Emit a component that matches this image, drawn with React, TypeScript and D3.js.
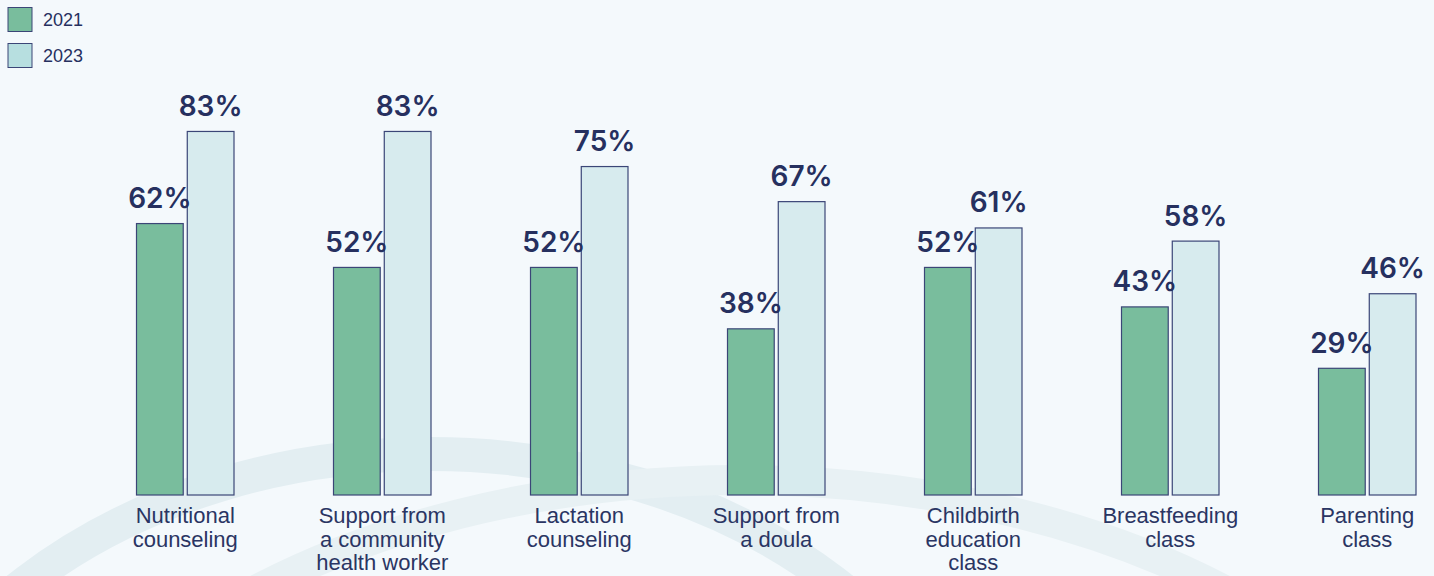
import React, { useEffect, useRef } from "react";
import * as d3 from "d3";

// data
const categories = [
  "Nutritional counseling",
  "Support from a community health worker",
  "Lactation counseling",
  "Support from a doula",
  "Childbirth education class",
  "Breastfeeding class",
  "Parenting class",
];
// how each category label wraps
const categoryLines = [
  ["Nutritional", "counseling"],
  ["Support from", "a community", "health worker"],
  ["Lactation", "counseling"],
  ["Support from", "a doula"],
  ["Childbirth", "education", "class"],
  ["Breastfeeding", "class"],
  ["Parenting", "class"],
];
const seriesNames = ["2021", "2023"];
const values2021 = [62, 52, 52, 38, 52, 43, 29];
const values2023 = [83, 83, 75, 67, 61, 58, 46];

const W = 1434;
const H = 576;
const NAVY = "#26305f";
const colors = ["#79bd9d", "#d7ebee"];
const legendColors = ["#79bd9d", "#b7dfe0"];

const App = () => {
  const svgRef = useRef<SVGSVGElement>(null);

  useEffect(() => {
    const svg = d3.select(svgRef.current);
    svg.selectAll("*").remove();

    svg.append("rect").attr("width", W).attr("height", H).attr("fill", "#f4f9fc");

    // faint decorative arcs in the background
    const bg = svg.append("g").attr("fill", "none");
    bg.append("ellipse")
      .attr("cx", 430)
      .attr("cy", 890)
      .attr("rx", 570)
      .attr("ry", 436)
      .attr("stroke", "#e3eef2")
      .attr("stroke-width", 34);
    bg.append("ellipse")
      .attr("cx", 740)
      .attr("cy", 960)
      .attr("rx", 760)
      .attr("ry", 480)
      .attr("stroke", "#e8f1f4")
      .attr("stroke-width", 30);

    // scales
    const x = d3
      .scaleBand<string>()
      .domain(categories)
      .range([86.75, 86.75 + 197 * 7])
      .paddingInner(0.5)
      .paddingOuter(0.25);
    const xs = d3
      .scaleBand<string>()
      .domain(seriesNames)
      .range([0, x.bandwidth()])
      .paddingInner(0.06);
    const y = d3.scaleLinear().domain([0, 100]).range([495, 56.4]);

    const rows = categories.map((c, i) => ({
      cat: c,
      vals: [values2021[i], values2023[i]],
    }));

    const groups = svg
      .selectAll("g.grp")
      .data(rows)
      .join("g")
      .attr("class", "grp")
      .attr("transform", (d) => `translate(${x(d.cat)},0)`);

    groups
      .selectAll("rect")
      .data((d) => d.vals.map((v, j) => ({ v, s: seriesNames[j], j })))
      .join("rect")
      .attr("x", (d) => xs(d.s)! + 0.5)
      .attr("y", (d) => y(d.v) + 0.5)
      .attr("width", xs.bandwidth() - 1)
      .attr("height", (d) => y(0) - y(d.v) - 0.5)
      .attr("fill", (d) => colors[d.j])
      .attr("stroke", "#3b4677")
      .attr("stroke-width", 1.2);

    groups
      .selectAll("text.val")
      .data((d) => d.vals.map((v, j) => ({ v, s: seriesNames[j] })))
      .join("text")
      .attr("class", "val")
      .attr("x", (d) => xs(d.s)! + xs.bandwidth() / 2)
      .attr("y", (d) => y(d.v) - 15)
      .attr("text-anchor", "middle")
      .attr("font-family", "Inter, Lato, sans-serif")
      .attr("font-weight", 600)
      .attr("font-size", 28)
      .attr("fill", NAVY)
      .text((d) => `${d.v}%`);

    // category labels
    groups
      .append("text")
      .attr("x", x.bandwidth() / 2)
      .attr("y", 523)
      .attr("text-anchor", "middle")
      .attr("font-family", "'Liberation Sans', Arial, sans-serif")
      .attr("font-size", 22)
      .attr("fill", "#2a3563")
      .selectAll("tspan")
      .data((d) => categoryLines[categories.indexOf(d.cat)])
      .join("tspan")
      .attr("x", x.bandwidth() / 2)
      .attr("dy", (d, i) => (i === 0 ? 0 : 23.5))
      .text((d) => d);

    // legend
    const legend = svg
      .selectAll("g.leg")
      .data(seriesNames)
      .join("g")
      .attr("class", "leg")
      .attr("transform", (d, i) => `translate(8,${7.5 + i * 36})`);
    legend
      .append("rect")
      .attr("width", 24)
      .attr("height", 24)
      .attr("fill", (d, i) => legendColors[i])
      .attr("stroke", "#3b4677")
      .attr("stroke-width", 1);
    legend
      .append("text")
      .attr("x", 35)
      .attr("y", 18)
      .attr("font-family", "'Liberation Sans', Arial, sans-serif")
      .attr("font-size", 18)
      .attr("fill", NAVY)
      .text((d) => d);
  }, []);

  return (
    <svg
      ref={svgRef}
      width={W}
      height={H}
      style={{ position: "absolute", left: 0, top: 0, display: "block" }}
    />
  );
};

export default App;
